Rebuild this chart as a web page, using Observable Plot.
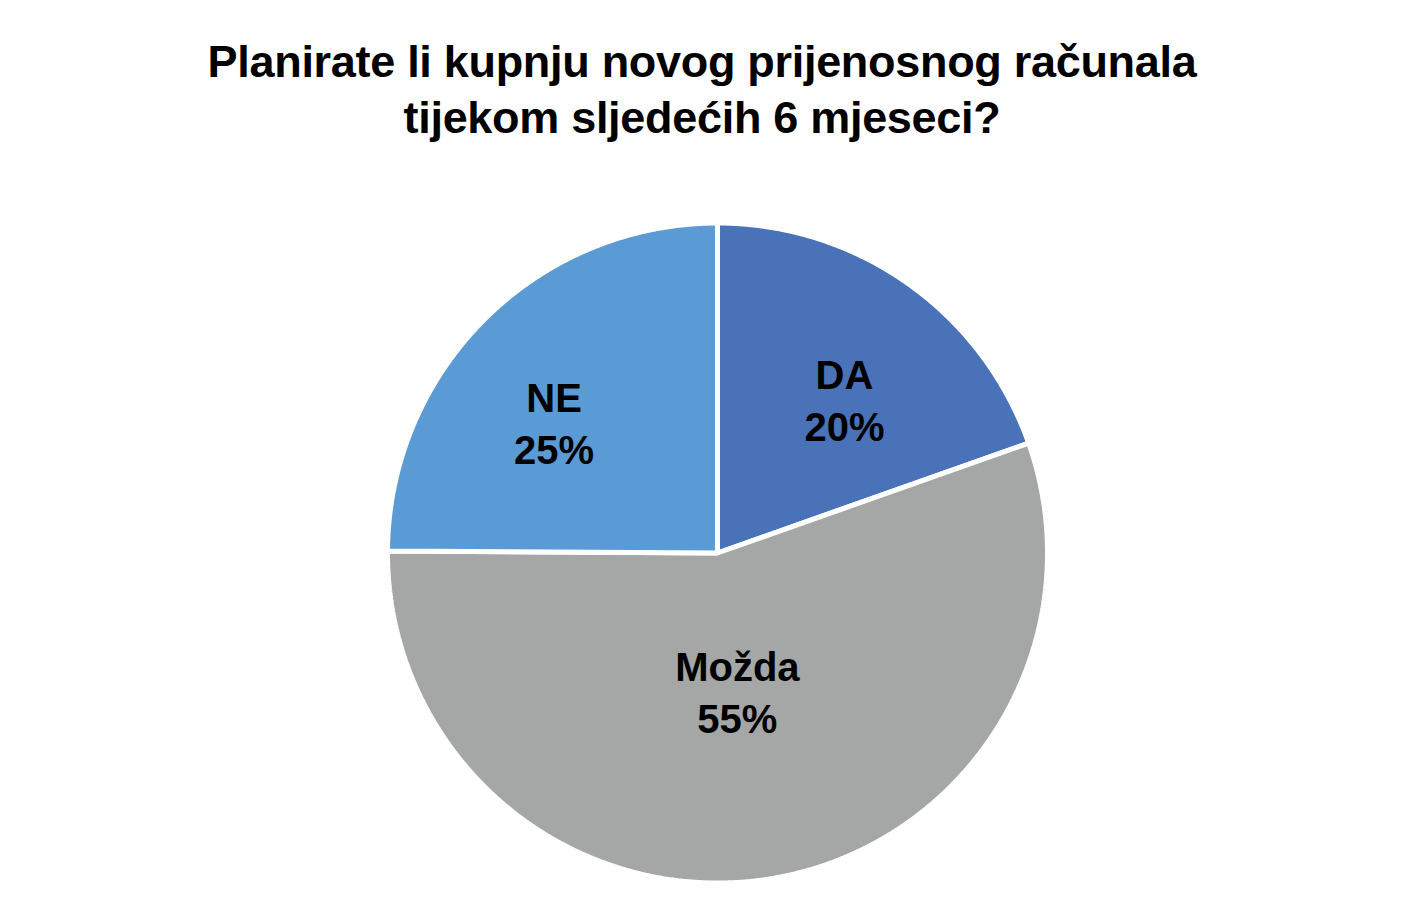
<!DOCTYPE html>
<html><head><meta charset="utf-8">
<script src="https://cdn.jsdelivr.net/npm/d3@7"></script>
<script src="https://cdn.jsdelivr.net/npm/@observablehq/plot@0.6"></script>
<style>
body{margin:0;background:#fff;width:1403px;height:909px;overflow:hidden;}
#title{height:170px;box-sizing:border-box;padding-top:34px;text-align:center;font-family:"Liberation Sans",Arial,sans-serif;font-weight:bold;font-size:45px;line-height:56px;color:#000;letter-spacing:-0.3px;padding-left:1px;}
</style></head>
<body>
<div id="title">Planirate li kupnju novog prijenosnog računala<br>tijekom sljedećih 6 mjeseci?</div>
<div id="chart"></div>
<script>
const categories = ["DA", "Možda", "NE"];
const values = [19.6, 55.5, 24.9];
const labelPercents = ["20%", "55%", "25%"];
const colors = ["#4a72b8", "#a5a6a6", "#5b9bd5"];

// label placement: radius fraction and angle shift (degrees) per slice
const labelPlace = {"DA": [0.60, 4.6], "Možda": [0.43, 1.5], "NE": [0.63, -7]};

const pie = d3.pie().sort(null).value(d => d.value)(categories.map((c, i) => ({category: c, value: values[i], label: labelPercents[i]})));
const polys = [];
pie.forEach(s => {
  const n = Math.max(2, Math.ceil((s.endAngle - s.startAngle) / 0.005));
  polys.push({category: s.data.category, x: 0, y: 0});
  for (let k = 0; k <= n; k++) {
    const a = s.startAngle + (s.endAngle - s.startAngle) * k / n;
    polys.push({category: s.data.category, x: Math.sin(a), y: Math.cos(a)});
  }
});
const labels = pie.map(s => {
  const [r, shift] = labelPlace[s.data.category];
  const a = (s.startAngle + s.endAngle) / 2 + shift * Math.PI / 180;
  return {category: s.data.category, label: s.data.label, x: r * Math.sin(a), y: r * Math.cos(a)};
});

const chart = Plot.plot({
  width: 1403, height: 739,
  margin: 0,
  x: {domain: [-1, 1], range: [387, 1047], axis: null},
  y: {domain: [-1, 1], range: [712.5, 52.5], axis: null},
  color: {domain: categories, range: colors},
  marks: [
    Plot.line(polys, {x: "x", y: "y", z: "category", fill: "category", stroke: "white", strokeWidth: 5, curve: "linear-closed", strokeLinejoin: "miter"}),
    Plot.text(labels, {x: "x", y: "y", dy: -3, text: d => d.category + "\n" + d.label, fontSize: 40, fontWeight: "bold", fill: "black", lineHeight: 1.3, fontFamily: "Liberation Sans, Arial, sans-serif"})
  ]
});
document.getElementById("chart").appendChild(chart);
</script>
</body></html>
